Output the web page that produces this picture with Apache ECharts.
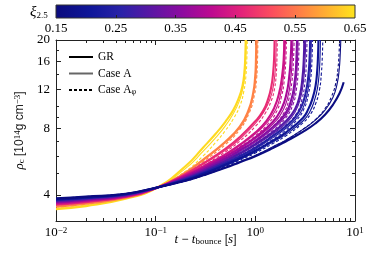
<!DOCTYPE html>
<html><head><meta charset="utf-8">
<script src="https://cdn.jsdelivr.net/npm/echarts@6/dist/echarts.min.js"></script>
<style>html,body{margin:0;padding:0;background:#fff}#c{width:374px;height:262px}</style>
</head><body><div id="c"></div>
<script>
// ---------- data ----------
const xiValues = [0.64, 0.56, 0.47, 0.43, 0.39, 0.35, 0.30, 0.25, 0.20, 0.16];

const grCurves = [
 [[0.01,3.45],[0.02,3.56],[0.05,3.84],[0.1,4.28],[0.2,5.4],[0.3,6.55],[0.4,7.55],[0.5,8.55],[0.6,9.65],[0.68,10.9],[0.74,12.3],[0.775,14.2],[0.792,16.8],[0.8,20]],
 [[0.01,3.54],[0.02,3.65],[0.05,3.88],[0.1,4.28],[0.2,5.05],[0.3,5.78],[0.5,6.95],[0.7,8.15],[0.85,9.6],[0.95,11.5],[0.995,13.6],[1.013,16],[1.02,20]],
 [[0.01,3.61],[0.02,3.71],[0.05,3.92],[0.1,4.28],[0.2,4.98],[0.3,5.55],[0.5,6.45],[0.7,7.3],[1.0,8.6],[1.2,9.6],[1.35,10.9],[1.45,12.4],[1.51,14.3],[1.545,16.8],[1.56,20]],
 [[0.01,3.65],[0.02,3.75],[0.05,3.94],[0.1,4.29],[0.2,4.91],[0.3,5.38],[0.5,6.1],[0.7,6.75],[1.0,7.65],[1.3,8.65],[1.55,9.9],[1.73,11.5],[1.85,13.6],[1.925,16.4],[1.95,20]],
 [[0.01,3.69],[0.02,3.78],[0.05,3.96],[0.1,4.29],[0.2,4.86],[0.3,5.29],[0.5,5.96],[0.7,6.52],[1.0,7.28],[1.5,8.55],[1.85,9.9],[2.05,11.4],[2.18,13.5],[2.26,16.3],[2.3,20]],
 [[0.01,3.72],[0.02,3.81],[0.05,3.98],[0.1,4.29],[0.2,4.8],[0.3,5.2],[0.5,5.83],[0.7,6.35],[1.0,7.02],[1.5,8.1],[2.0,9.3],[2.3,10.8],[2.46,12.6],[2.56,15],[2.62,20]],
 [[0.01,3.76],[0.02,3.84],[0.05,4.0],[0.1,4.3],[0.2,4.75],[0.3,5.12],[0.5,5.69],[0.7,6.17],[1.0,6.78],[1.5,7.68],[2.0,8.55],[2.5,9.75],[2.8,11.3],[2.97,13.5],[3.06,16.3],[3.1,20]],
 [[0.01,3.79],[0.02,3.87],[0.05,4.02],[0.1,4.3],[0.2,4.71],[0.3,5.04],[0.5,5.57],[0.7,6.0],[1.0,6.53],[1.5,7.38],[2.0,8.12],[2.5,8.95],[2.95,10.2],[3.22,11.7],[3.4,13.7],[3.5,16.5],[3.55,20]],
 [[0.01,3.82],[0.02,3.89],[0.05,4.03],[0.1,4.31],[0.2,4.67],[0.3,4.98],[0.5,5.47],[0.7,5.85],[1.0,6.33],[1.5,7.02],[2.0,7.62],[3.0,8.9],[3.4,9.75],[3.75,10.9],[4.02,12.4],[4.18,14.6],[4.26,17.2],[4.3,20]],
 [[0.01,3.86],[0.02,3.93],[0.05,4.05],[0.1,4.31],[0.2,4.63],[0.3,4.9],[0.5,5.3],[0.7,5.62],[1.0,5.98],[1.5,6.5],[2.0,6.95],[3.0,7.7],[4.0,8.4],[5.0,9.2],[6.0,10.2],[7.0,11.5],[7.7,12.9]]
];

const caseACurves = [
 [[0.01,3.47],[0.02,3.58],[0.05,3.85],[0.1,4.27],[0.2,5.27],[0.3,6.3],[0.4,7.25],[0.5,8.2],[0.6,9.3],[0.69,10.6],[0.75,12.1],[0.785,14],[0.802,16.6],[0.81,20]],
 [[0.01,3.55],[0.02,3.66],[0.05,3.89],[0.1,4.27],[0.2,5.02],[0.3,5.72],[0.5,6.88],[0.7,8.05],[0.86,9.5],[0.96,11.4],[1.01,13.5],[1.032,16.3],[1.04,20]],
 [[0.01,3.62],[0.02,3.72],[0.05,3.92],[0.1,4.28],[0.2,4.94],[0.3,5.5],[0.5,6.35],[0.7,7.15],[1.0,8.4],[1.22,9.5],[1.4,10.8],[1.51,12.3],[1.575,14.2],[1.606,16.7],[1.62,20]],
 [[0.01,3.66],[0.02,3.76],[0.05,3.94],[0.1,4.28],[0.2,4.89],[0.3,5.35],[0.5,6.05],[0.7,6.68],[1.0,7.55],[1.3,8.45],[1.6,9.7],[1.78,11.2],[1.9,13.3],[1.97,16],[2.0,20]],
 [[0.01,3.7],[0.02,3.79],[0.05,3.96],[0.1,4.29],[0.2,4.84],[0.3,5.26],[0.5,5.92],[0.7,6.45],[1.0,7.18],[1.5,8.35],[1.9,9.65],[2.12,11.1],[2.26,13.2],[2.34,16],[2.38,20]],
 [[0.01,3.73],[0.02,3.82],[0.05,3.98],[0.1,4.29],[0.2,4.78],[0.3,5.17],[0.5,5.77],[0.7,6.27],[1.0,6.92],[1.5,7.95],[2.0,9.05],[2.35,10.5],[2.52,12.3],[2.62,14.8],[2.68,20]],
 [[0.01,3.77],[0.02,3.85],[0.05,4.0],[0.1,4.29],[0.2,4.73],[0.3,5.09],[0.5,5.64],[0.7,6.1],[1.0,6.7],[1.5,7.55],[2.0,8.35],[2.5,9.45],[2.85,11.0],[3.05,13.2],[3.15,16],[3.2,20]],
 [[0.01,3.8],[0.02,3.88],[0.05,4.02],[0.1,4.3],[0.2,4.69],[0.3,5.01],[0.5,5.52],[0.7,5.93],[1.0,6.45],[1.5,7.25],[2.0,7.95],[2.5,8.7],[3.0,9.85],[3.3,11.3],[3.5,13.4],[3.6,16.2],[3.65,20]],
 [[0.01,3.83],[0.02,3.9],[0.05,4.03],[0.1,4.3],[0.2,4.65],[0.3,4.95],[0.5,5.42],[0.7,5.79],[1.0,6.25],[1.5,6.92],[2.0,7.48],[3.0,8.62],[3.5,9.45],[3.9,10.6],[4.2,12.1],[4.38,14.4],[4.46,17],[4.5,20]],
 [[0.01,3.85],[0.02,3.92],[0.05,4.05],[0.1,4.31],[0.2,4.63],[0.3,4.9],[0.5,5.32],[0.7,5.65],[1.0,6.03],[1.5,6.6],[2.0,7.05],[3.0,7.9],[4.0,8.7],[5.0,9.65],[6.0,11.0],[6.6,12.6],[6.95,14.8],[7.12,17.5],[7.2,20]]
];

const caseAphiCurves = [
 [[0.01,3.48],[0.02,3.59],[0.05,3.86],[0.1,4.26],[0.2,5.12],[0.3,6.0],[0.4,6.9],[0.5,7.8],[0.6,8.8],[0.7,10.1],[0.765,11.7],[0.805,13.8],[0.822,16.5],[0.83,20]],
 [[0.01,3.56],[0.02,3.67],[0.05,3.89],[0.1,4.27],[0.2,4.98],[0.3,5.65],[0.5,6.75],[0.7,7.9],[0.87,9.4],[0.98,11.3],[1.03,13.4],[1.052,16.3],[1.06,20]],
 [[0.01,3.63],[0.02,3.73],[0.05,3.92],[0.1,4.27],[0.2,4.89],[0.3,5.42],[0.5,6.25],[0.7,7.0],[1.0,8.15],[1.25,9.3],[1.44,10.6],[1.56,12.1],[1.62,14.0],[1.648,16.5],[1.66,20]],
 [[0.01,3.67],[0.02,3.77],[0.05,3.95],[0.1,4.28],[0.2,4.86],[0.3,5.3],[0.5,5.98],[0.7,6.58],[1.0,7.4],[1.35,8.4],[1.65,9.6],[1.83,11.1],[1.95,13.1],[2.02,16],[2.05,20]],
 [[0.01,3.71],[0.02,3.8],[0.05,3.97],[0.1,4.28],[0.2,4.81],[0.3,5.21],[0.5,5.85],[0.7,6.36],[1.0,7.05],[1.5,8.15],[1.95,9.45],[2.18,10.9],[2.33,13],[2.41,15.9],[2.45,20]],
 [[0.01,3.74],[0.02,3.83],[0.05,3.99],[0.1,4.29],[0.2,4.76],[0.3,5.13],[0.5,5.71],[0.7,6.19],[1.0,6.82],[1.5,7.8],[2.0,8.85],[2.4,10.3],[2.59,12.1],[2.69,14.6],[2.75,20]],
 [[0.01,3.78],[0.02,3.86],[0.05,4.01],[0.1,4.29],[0.2,4.71],[0.3,5.05],[0.5,5.58],[0.7,6.02],[1.0,6.6],[1.5,7.42],[2.0,8.2],[2.6,9.35],[2.95,10.9],[3.15,13],[3.25,15.8],[3.3,20]],
 [[0.01,3.81],[0.02,3.89],[0.05,4.02],[0.1,4.3],[0.2,4.67],[0.3,4.98],[0.5,5.47],[0.7,5.87],[1.0,6.36],[1.5,7.12],[2.0,7.8],[2.6,8.7],[3.1,9.85],[3.4,11.3],[3.6,13.4],[3.7,16.2],[3.75,20]],
 [[0.01,3.84],[0.02,3.91],[0.05,4.04],[0.1,4.3],[0.2,4.63],[0.3,4.92],[0.5,5.38],[0.7,5.74],[1.0,6.18],[1.5,6.82],[2.0,7.36],[3.0,8.45],[3.6,9.3],[4.05,10.4],[4.4,11.9],[4.6,14.2],[4.7,16.8],[4.75,20]],
 [[0.01,3.86],[0.02,3.93],[0.05,4.06],[0.1,4.31],[0.2,4.62],[0.3,4.89],[0.5,5.31],[0.7,5.64],[1.0,6.02],[1.5,6.58],[2.0,7.03],[3.0,7.9],[4.0,8.75],[5.0,9.8],[5.8,11.1],[6.4,12.7],[6.75,14.9],[6.92,17.5],[7.0,20]]
];

const xMajorTicks = [0.01, 0.1, 1, 10];
const xMinorTicks = [0.02,0.03,0.04,0.05,0.06,0.07,0.08,0.09,0.2,0.3,0.4,0.5,0.6,0.7,0.8,0.9,2,3,4,5,6,7,8,9];
const yMajorTicks = [4, 8, 12, 16, 20];
const yMinorTicks = [5, 6, 7, 9, 10, 14, 18];
const cbLabels = [0.15, 0.25, 0.35, 0.45, 0.55, 0.65];
const cbTicks = [0.25, 0.35, 0.45, 0.55];
const cbRange = [0.15, 0.65];
const legendNames = ['GR', 'Case A', 'Case Aφ'];

// ---------- styling ----------
const FONT = 'Liberation Serif';
const cmap = [
 [0.00,'#0b0b7d'],[0.12,'#10179a'],[0.22,'#2a22a8'],[0.32,'#5b16a4'],[0.42,'#8c0ba0'],
 [0.52,'#bd0a90'],[0.62,'#e3237a'],[0.72,'#fb4d5e'],[0.82,'#ff8245'],[0.91,'#ffb32f'],[1.00,'#fee51d']
];
function hex2rgb(h){return [parseInt(h.substr(1,2),16),parseInt(h.substr(3,2),16),parseInt(h.substr(5,2),16)];}
function colorAt(v){
  const f=(v-cbRange[0])/(cbRange[1]-cbRange[0]);
  for(let i=1;i<cmap.length;i++){
    if(f<=cmap[i][0]){
      const a=cmap[i-1],b=cmap[i];const u=(f-a[0])/(b[0]-a[0]);
      const ca=hex2rgb(a[1]),cb=hex2rgb(b[1]);
      return 'rgb('+ca.map((c,k)=>Math.round(c+(cb[k]-c)*u)).join(',')+')';
    }
  }
  return cmap[cmap.length-1][1];
}
const variants = [
  {name:'GR', curves:grCurves, width:2.1, type:'solid'},
  {name:'Case A', curves:caseACurves, width:1.1, type:'solid'},
  {name:'Case Aφ', curves:caseAphiCurves, width:1.1, type:[3,2]}
];

const series = [];
xiValues.forEach((xi, m) => {
  variants.forEach(v => {
    series.push({
      type:'line', xAxisIndex:0, yAxisIndex:0, data:v.curves[m], showSymbol:false, symbol:'none',
      smooth:true, silent:true, clip:true,
      lineStyle:{color:colorAt(xi), width:v.width, type:v.type}
    });
  });
});
// legend proxies
series.push({name:'GR', type:'line', data:[], symbol:'none', color:'#000', lineStyle:{color:'#000', width:2.2}});
series.push({name:'Case A', type:'line', data:[], symbol:'none', color:'#666', lineStyle:{color:'#666', width:1.3}});
series.push({name:'Case Aφ', type:'line', data:[], symbol:'none', color:'#000', lineStyle:{color:'#000', width:1, type:[3,2]}});
// colorbar
series.push({
  type:'custom', xAxisIndex:4, yAxisIndex:4, data:[[cbRange[0],0]], silent:true, z:1,
  renderItem:(p, api) => {
    const a = api.coord([cbRange[0], 0]), b = api.coord([cbRange[1], 1]);
    return {type:'rect', shape:{x:a[0], y:b[1], width:b[0]-a[0], height:a[1]-b[1]},
      style:{fill:new echarts.graphic.LinearGradient(0,0,1,0, cmap.map(s=>({offset:s[0], color:s[1]}))), stroke:'#333', lineWidth:1}};
  }
});

const rich = {
  n:{fontFamily:FONT, fontSize:13, fontWeight:'normal', color:'#000'},
  i:{fontFamily:FONT, fontSize:13, fontStyle:'italic', fontWeight:'normal', color:'#000'},
  bi:{fontFamily:FONT, fontSize:15, fontStyle:'italic', fontWeight:'normal', color:'#000'},
  sup:{fontFamily:FONT, fontSize:9, verticalAlign:'top', fontWeight:'normal', color:'#000'},
  sub:{fontFamily:FONT, fontSize:9, verticalAlign:'bottom', fontWeight:'normal', color:'#000'}
};
const axLine = {show:true, onZero:false, lineStyle:{color:'#222', width:1}};
function logAxis(pos, major, showLabel, extra){
  return Object.assign({
    type:'log', logBase:10, gridIndex:0, position:pos, min:0.01, max:10,
    axisLine: major ? axLine : {show:false},
    axisTick:{show:true, inside:true, length: major?5:3, lineStyle:{color:'#222', width:1}, customValues: major?xMajorTicks:xMinorTicks},
    axisLabel:{show:showLabel, customValues:xMajorTicks, margin:5, fontFamily:FONT,
      formatter:v=>'{n|10}{sup|'+(Math.round(Math.log10(v))<0?'−':'')+Math.abs(Math.round(Math.log10(v)))+'}', rich:rich},
    splitLine:{show:false}, minorTick:{show:false}
  }, extra||{});
}
function yLogAxis(pos, major, showLabel, extra){
  return Object.assign({
    type:'log', logBase:10, gridIndex:0, position:pos, min:3.05, max:20,
    axisLine: major ? axLine : {show:false},
    axisTick:{show:true, inside:true, length: major?5:3, lineStyle:{color:'#222', width:1}, customValues: major?yMajorTicks:yMinorTicks},
    axisLabel:{show:showLabel, customValues:yMajorTicks, margin:6, fontFamily:FONT, fontSize:13, color:'#000'},
    splitLine:{show:false}, minorTick:{show:false}
  }, extra||{});
}

const option = {
  animation:false,
  backgroundColor:'#fff',
  title:{text:'{bi|ξ}{sub|2.5}', left:25, top:0, textStyle:{fontWeight:'normal', rich:rich}},
  grid:[
    {left:56, right:19, top:40, bottom:41},
    {left:56, right:19, top:5, height:13}
  ],
  legend:{
    data:legendNames, orient:'vertical', left:63, top:46, itemWidth:24, itemHeight:10, itemGap:4.5,
    textStyle:{fontFamily:FONT, fontSize:11.5, color:'#000', rich:{sub:{fontFamily:FONT, fontSize:8, verticalAlign:'bottom'}}},
    formatter:n=> n==='Case Aφ' ? 'Case A{sub|φ}' : n,
    itemStyle:{opacity:0}
  },
  xAxis:[
    logAxis('bottom', true, true, {name:'{i|t} − {i|t}{sub|bounce} [{i|s}]', nameLocation:'middle', nameGap:12,
      nameMoveOverlap:false, nameTextStyle:{rich:rich}}),
    logAxis('bottom', false, false),
    logAxis('top', true, false),
    logAxis('top', false, false),
    {type:'value', gridIndex:1, min:cbRange[0], max:cbRange[1], position:'bottom', z:10,
     axisLine:{show:false}, splitLine:{show:false},
     axisTick:{show:true, inside:true, length:3, customValues:cbTicks, lineStyle:{color:'#222'}},
     axisLabel:{customValues:cbLabels, formatter:v=>v.toFixed(2), margin:4, fontFamily:FONT, fontSize:13, color:'#000'}}
  ],
  yAxis:[
    yLogAxis('left', true, true, {name:'{i|ρ}{sub|c} [10{sup|14}g cm{sup|−3}]', nameLocation:'middle', nameRotate:90, nameGap:24,
      nameTextStyle:{rich:rich}}),
    yLogAxis('left', false, false),
    yLogAxis('right', true, false),
    yLogAxis('right', false, false),
    {type:'value', gridIndex:1, min:0, max:1, axisLine:{show:false}, axisTick:{show:false}, axisLabel:{show:false}, splitLine:{show:false}}
  ],
  series:series
};
const chart = echarts.init(document.getElementById('c'), null, {renderer:'canvas'});
chart.setOption(option);
</script></body></html>
